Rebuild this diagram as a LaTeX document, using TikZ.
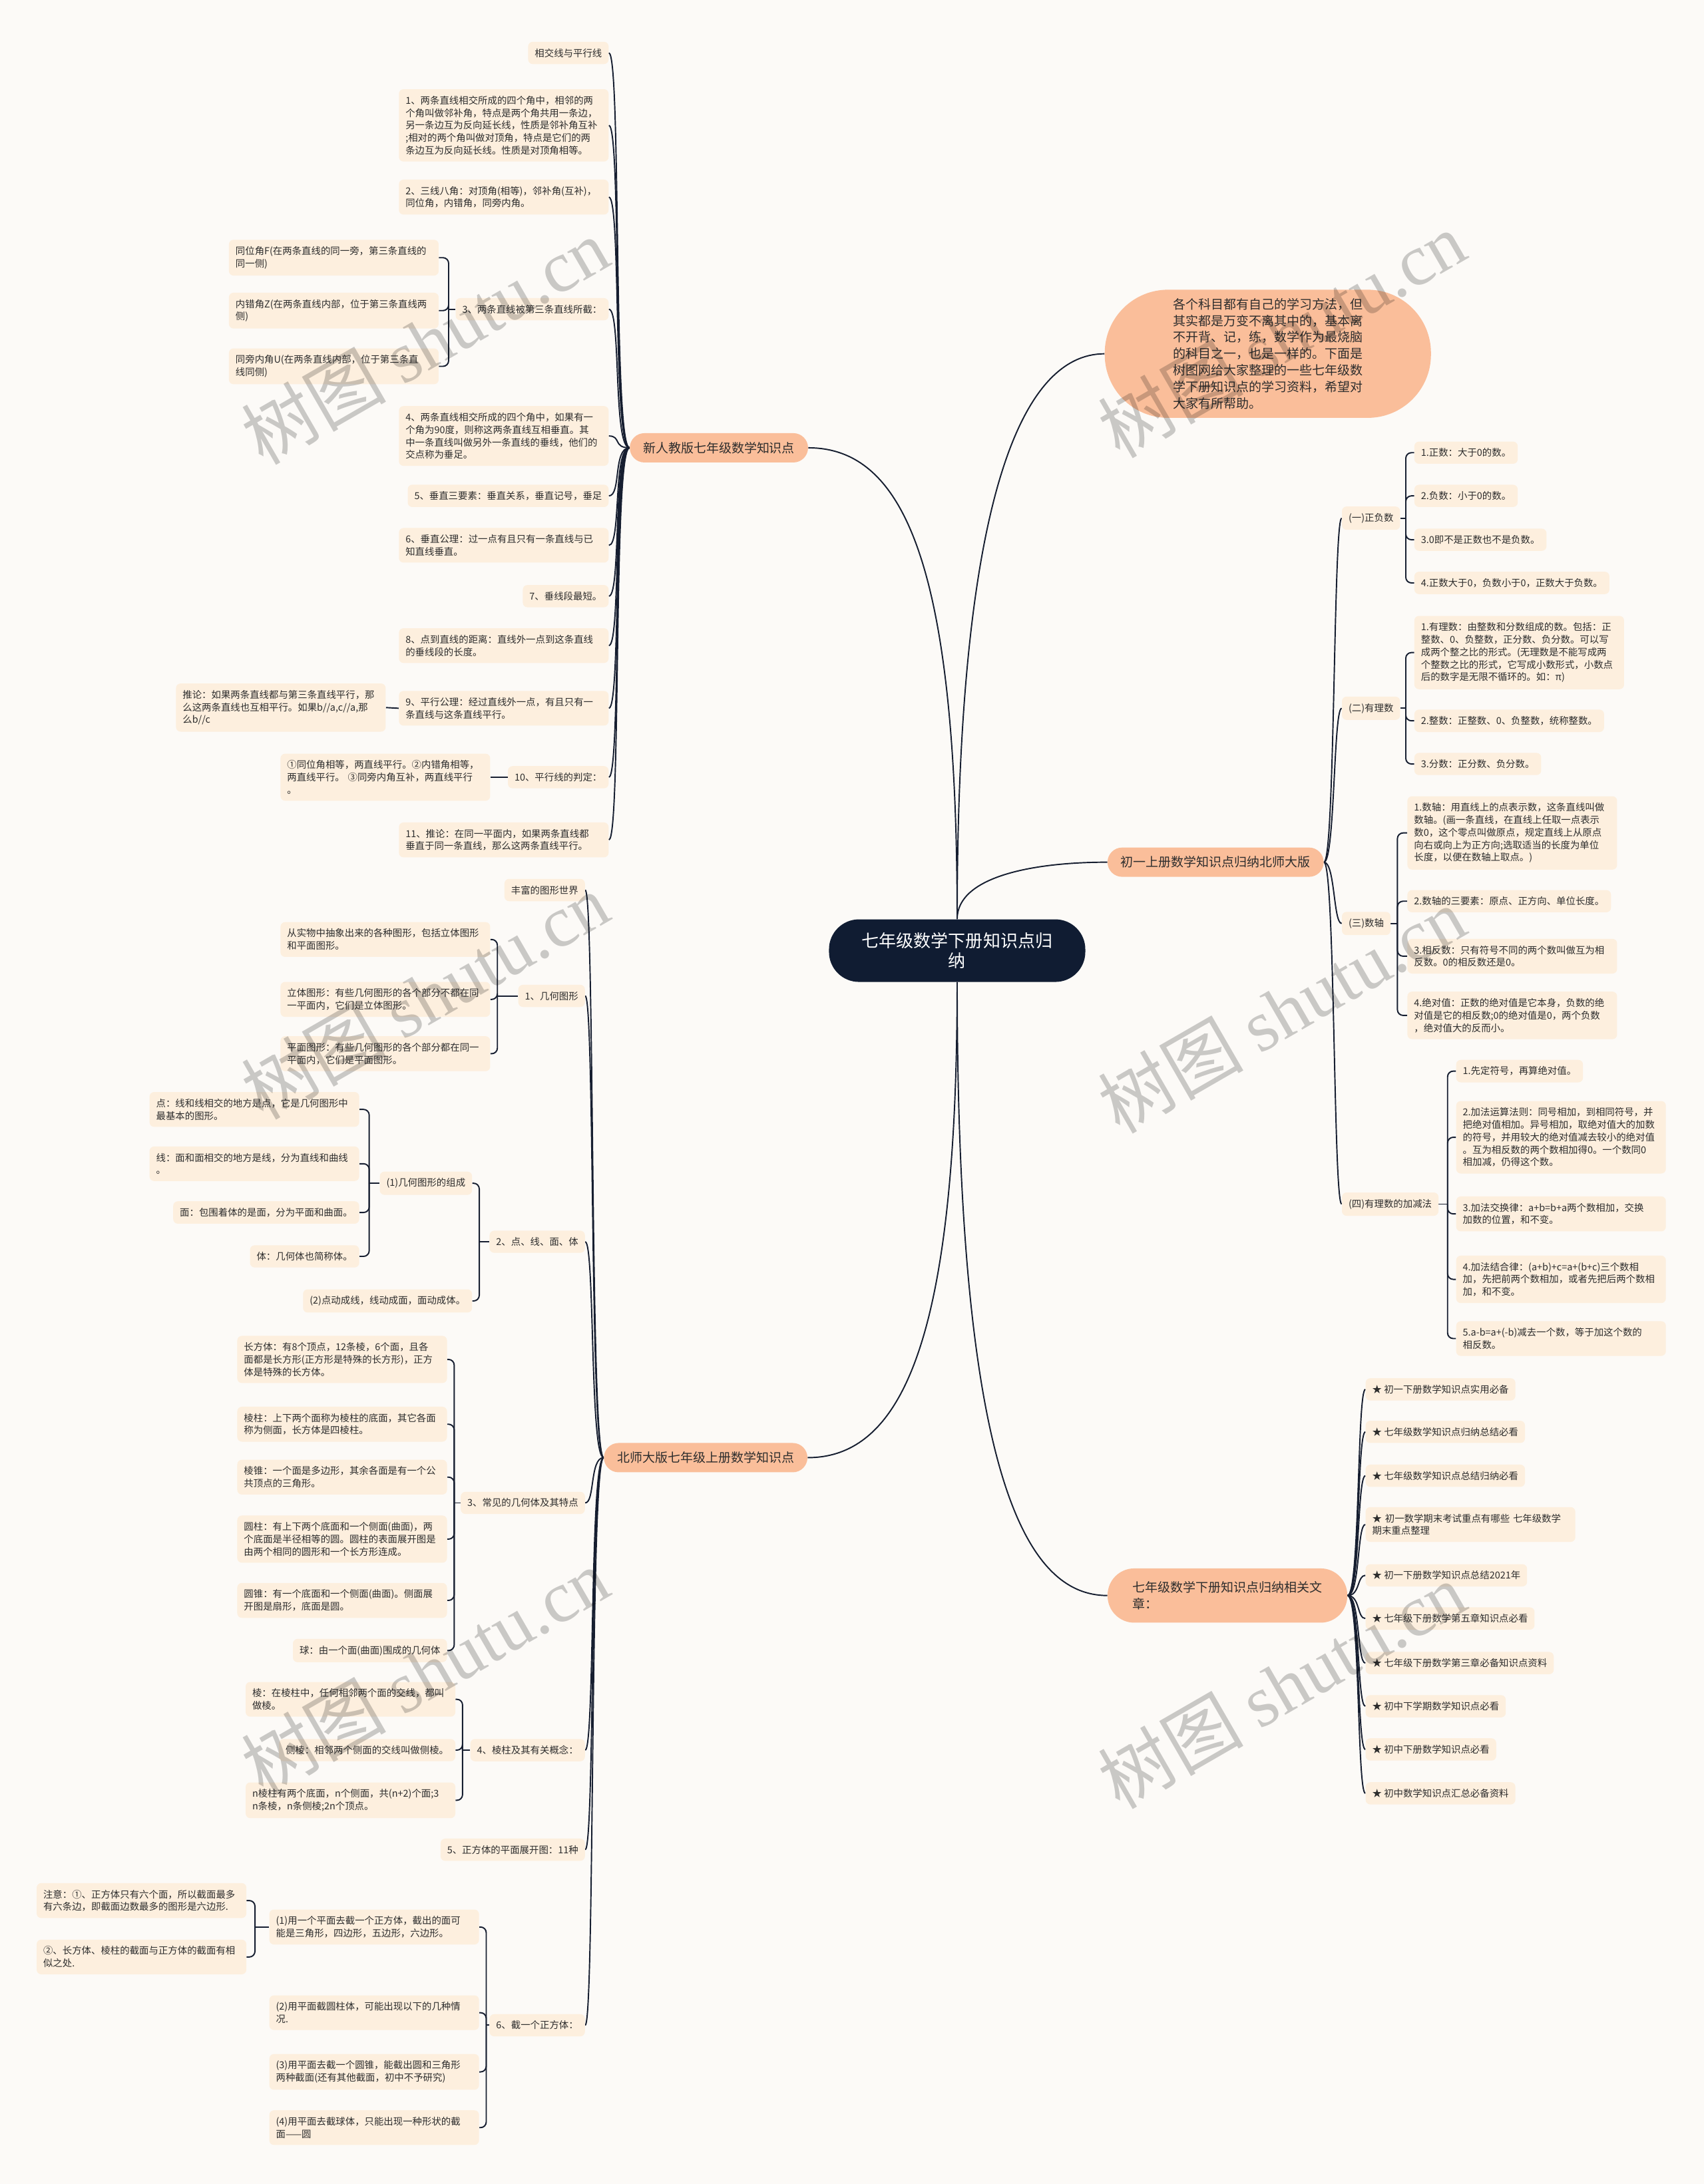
\documentclass[tikz,border=0pt]{standalone}
\usepackage{fontspec}
\setmainfont{Noto Sans CJK SC}
\newfontfamily\wmlatin{Liberation Serif}
\usetikzlibrary{backgrounds}

\definecolor{bgcol}{RGB}{252,250,247}
\definecolor{leafcol}{RGB}{253,239,222}
\definecolor{branchcol}{RGB}{250,190,154}
\definecolor{rootcol}{RGB}{16,28,50}
\definecolor{linecol}{RGB}{22,30,48}
\definecolor{textcol}{RGB}{45,45,45}

\newcommand\leaffnt{\fontsize{8.2pt}{10.7pt}\selectfont}
\newcommand\brfnt{\fontsize{10.8pt}{14.2pt}\selectfont}
\newcommand\rootfnt{\fontsize{14.8pt}{17pt}\selectfont}
\newcommand\wmfnt{\fontsize{62pt}{62pt}\selectfont}

\begin{document}
\begin{tikzpicture}[x=0.04186cm, y=-0.04186cm,
  leaf/.style={fill=leafcol, text=textcol, rounded corners=0.14cm, inner xsep=0.2cm, inner ysep=0.2cm, align=left, font=\leaffnt},
  wide/.style={leaf, text width=5.9cm},
  branch/.style={fill=branchcol, text=textcol, rounded corners=0.44cm, inner xsep=0.4cm, inner ysep=0.2cm, minimum height=0.88cm, font=\brfnt},
  link/.style={draw=linecol, line width=1.1pt},
  brk/.style={link, rounded corners=0.17cm},
  wm/.style={rotate=30, font=\wmfnt, text=black, text opacity=0.2},
]
\useasboundingbox (0,0) rectangle (1223,1568);
\begin{scope}[on background layer]
\fill[bgcol] (0,0) rectangle (1223,1568);
\end{scope}

% centre
\node[fill=rootcol, text=white, font=\rootfnt, align=center, minimum width=7.7cm, minimum height=1.88cm, rounded corners=0.9cm] (root) at (687,682.5) {七年级数学下册知识点归\\纳};

% main branches
\node[branch] (xrj) at (516,321.5) {新人教版七年级数学知识点};
\node[branch] (bsd) at (506.5,1046.5) {北师大版七年级上册数学知识点};
\node[branch] (cysc) at (872.5,619) {初一上册数学知识点归纳北师大版};
\node[branch, align=left, minimum width=7.2cm, minimum height=1.63cm, rounded corners=0.8cm, inner xsep=0.6cm] (xgwz) at (881,1145.5) {七年级数学下册知识点归纳相关文\\章：};
\node[branch, align=left, minimum width=9.8cm, minimum height=3.85cm, rounded corners=1.9cm] (intro) at (910,254) {各个科目都有自己的学习方法，但\\其实都是万变不离其中的，基本离\\不开背、记，练，数学作为最烧脑\\的科目之一，也是一样的。下面是\\树图网给大家整理的一些七年级数\\学下册知识点的学习资料，希望对\\大家有所帮助。};

% 新人教版
\node[leaf, anchor=east] (a1) at (437,38) {相交线与平行线};
\node[wide, anchor=east] (a2) at (437,90) {1、两条直线相交所成的四个角中，相邻的两\\个角叫做邻补角，特点是两个角共用一条边，\\另一条边互为反向延长线，性质是邻补角互补\\;相对的两个角叫做对顶角，特点是它们的两\\条边互为反向延长线。性质是对顶角相等。};
\node[wide, anchor=east] (a3) at (437,141.5) {2、三线八角：对顶角(相等)，邻补角(互补)，\\同位角，内错角，同旁内角。};
\node[leaf, anchor=east] (a4) at (437,222) {3、两条直线被第三条直线所截：};
\node[wide, anchor=east] (a41) at (315,185) {同位角F(在两条直线的同一旁，第三条直线的\\同一侧)};
\node[wide, anchor=east] (a42) at (315,223) {内错角Z(在两条直线内部，位于第三条直线两\\侧)};
\node[wide, anchor=east] (a43) at (315,263) {同旁内角U(在两条直线内部，位于第三条直\\线同侧)};
\node[wide, anchor=east] (a5) at (437,313) {4、两条直线相交所成的四个角中，如果有一\\个角为90度，则称这两条直线互相垂直。其\\中一条直线叫做另外一条直线的垂线，他们的\\交点称为垂足。};
\node[leaf, anchor=east] (a6) at (437,356) {5、垂直三要素：垂直关系，垂直记号，垂足};
\node[wide, anchor=east] (a7) at (437,391.5) {6、垂直公理：过一点有且只有一条直线与已\\知直线垂直。};
\node[leaf, anchor=east] (a8) at (437,428) {7、垂线段最短。};
\node[wide, anchor=east] (a9) at (437,463.5) {8、点到直线的距离：直线外一点到这条直线\\的垂线段的长度。};
\node[wide, anchor=east] (a10) at (437,508.5) {9、平行公理：经过直线外一点，有且只有一\\条直线与这条直线平行。};
\node[wide, anchor=east] (a101) at (277,508) {推论：如果两条直线都与第三条直线平行，那\\么这两条直线也互相平行。如果b//a,c//a,那\\么b//c};
\node[leaf, anchor=east] (a11) at (437,558) {10、平行线的判定：};
\node[wide, anchor=east] (a111) at (352,558) {①同位角相等，两直线平行。②内错角相等，\\两直线平行。 ③同旁内角互补，两直线平行\\。};
\node[wide, anchor=east] (a12) at (437,603) {11、推论：在同一平面内，如果两条直线都\\垂直于同一条直线，那么这两条直线平行。};

% 北师大版
\node[leaf, anchor=east] (b1) at (420,639) {丰富的图形世界};
\node[leaf, anchor=east] (b2) at (420,715) {1、几何图形};
\node[wide, anchor=east] (b21) at (352,674.5) {从实物中抽象出来的各种图形，包括立体图形\\和平面图形。};
\node[wide, anchor=east] (b22) at (352,717.5) {立体图形：有些几何图形的各个部分不都在同\\一平面内，它们是立体图形。};
\node[wide, anchor=east] (b23) at (352,756.5) {平面图形：有些几何图形的各个部分都在同一\\平面内，它们是平面图形。};
\node[leaf, anchor=east] (b3) at (420,891.5) {2、点、线、面、体};
\node[leaf, anchor=east] (b31) at (339,849.5) {(1)几何图形的组成};
\node[wide, anchor=east] (b311) at (258,796.5) {点：线和线相交的地方是点，它是几何图形中\\最基本的图形。};
\node[wide, anchor=east] (b312) at (258,835.5) {线：面和面相交的地方是线，分为直线和曲线\\。};
\node[leaf, anchor=east] (b313) at (258,870.5) {面：包围着体的是面，分为平面和曲面。};
\node[leaf, anchor=east] (b314) at (258,902) {体：几何体也简称体。};
\node[leaf, anchor=east] (b32) at (339,934) {(2)点动成线，线动成面，面动成体。};
\node[leaf, anchor=east] (b4) at (420,1079) {3、常见的几何体及其特点};
\node[wide, anchor=east] (b41) at (321,976) {长方体：有8个顶点，12条棱，6个面，且各\\面都是长方形(正方形是特殊的长方形)，正方\\体是特殊的长方体。};
\node[wide, anchor=east] (b42) at (321,1022.5) {棱柱：上下两个面称为棱柱的底面，其它各面\\称为侧面，长方体是四棱柱。};
\node[wide, anchor=east] (b43) at (321,1060.5) {棱锥：一个面是多边形，其余各面是有一个公\\共顶点的三角形。};
\node[wide, anchor=east] (b44) at (321,1105) {圆柱：有上下两个底面和一个侧面(曲面)，两\\个底面是半径相等的圆。圆柱的表面展开图是\\由两个相同的圆形和一个长方形连成。};
\node[wide, anchor=east] (b45) at (321,1149) {圆锥：有一个底面和一个侧面(曲面)。侧面展\\开图是扇形，底面是圆。};
\node[leaf, anchor=east] (b46) at (321,1185) {球：由一个面(曲面)围成的几何体};
\node[leaf, anchor=east] (b5) at (420,1256.5) {4、棱柱及其有关概念：};
\node[wide, anchor=east] (b51) at (327,1220) {棱：在棱柱中，任何相邻两个面的交线，都叫\\做棱。};
\node[leaf, anchor=east] (b52) at (327,1256.5) {侧棱：相邻两个侧面的交线叫做侧棱。};
\node[wide, anchor=east] (b53) at (327,1292.5) {n棱柱有两个底面，n个侧面，共(n+2)个面;3\\n条棱，n条侧棱;2n个顶点。};
\node[leaf, anchor=east] (b6) at (420,1328) {5、正方体的平面展开图：11种};
\node[leaf, anchor=east] (b7) at (420,1454) {6、截一个正方体：};
\node[wide, anchor=east] (b71) at (344,1383.5) {(1)用一个平面去截一个正方体，截出的面可\\能是三角形，四边形，五边形，六边形。};
\node[wide, anchor=east] (b711) at (177,1364.5) {注意：①、正方体只有六个面，所以截面最多\\有六条边，即截面边数最多的图形是六边形.};
\node[wide, anchor=east] (b712) at (177,1405) {②、长方体、棱柱的截面与正方体的截面有相\\似之处.};
\node[wide, anchor=east] (b72) at (344,1445) {(2)用平面截圆柱体，可能出现以下的几种情\\况.};
\node[wide, anchor=east] (b73) at (344,1487.5) {(3)用平面去截一个圆锥，能截出圆和三角形\\两种截面(还有其他截面，初中不予研究)};
\node[wide, anchor=east] (b74) at (344,1527.5) {(4)用平面去截球体，只能出现一种形状的截\\面——圆};

% 初一上册
\node[leaf, anchor=west] (c1) at (963,372) {(一)正负数};
\node[leaf, anchor=west] (c11) at (1015,325) {1.正数：大于0的数。};
\node[leaf, anchor=west] (c12) at (1015,356) {2.负数：小于0的数。};
\node[leaf, anchor=west] (c13) at (1015,387.5) {3.0即不是正数也不是负数。};
\node[leaf, anchor=west] (c14) at (1015,418.5) {4.正数大于0，负数小于0，正数大于负数。};
\node[leaf, anchor=west] (c2) at (963,508.5) {(二)有理数};
\node[wide, anchor=west] (c21) at (1015,468.5) {1.有理数：由整数和分数组成的数。包括：正\\整数、0、负整数，正分数、负分数。可以写\\成两个整之比的形式。(无理数是不能写成两\\个整数之比的形式，它写成小数形式，小数点\\后的数字是无限不循环的。如：π)};
\node[leaf, anchor=west] (c22) at (1015,517.5) {2.整数：正整数、0、负整数，统称整数。};
\node[leaf, anchor=west] (c23) at (1015,548.5) {3.分数：正分数、负分数。};
\node[leaf, anchor=west] (c3) at (963,663) {(三)数轴};
\node[wide, anchor=west] (c31) at (1010,598) {1.数轴：用直线上的点表示数，这条直线叫做\\数轴。(画一条直线，在直线上任取一点表示\\数0，这个零点叫做原点，规定直线上从原点\\向右或向上为正方向;选取适当的长度为单位\\长度，以便在数轴上取点。)};
\node[leaf, anchor=west] (c32) at (1010,647) {2.数轴的三要素：原点、正方向、单位长度。};
\node[wide, anchor=west] (c33) at (1010,686.5) {3.相反数：只有符号不同的两个数叫做互为相\\反数。0的相反数还是0。};
\node[wide, anchor=west] (c34) at (1010,729) {4.绝对值：正数的绝对值是它本身，负数的绝\\对值是它的相反数;0的绝对值是0，两个负数\\，绝对值大的反而小。};
\node[leaf, anchor=west] (c4) at (963,864.5) {(四)有理数的加减法};
\node[leaf, anchor=west] (c41) at (1045,769) {1.先定符号，再算绝对值。};
\node[wide, anchor=west] (c42) at (1045,816.5) {2.加法运算法则：同号相加，到相同符号，并\\把绝对值相加。异号相加，取绝对值大的加数\\的符号，并用较大的绝对值减去较小的绝对值\\。互为相反数的两个数相加得0。一个数同0\\相加减，仍得这个数。};
\node[wide, anchor=west] (c43) at (1045,871.5) {3.加法交换律：a+b=b+a两个数相加，交换\\加数的位置，和不变。};
\node[wide, anchor=west] (c44) at (1045,918.5) {4.加法结合律：(a+b)+c=a+(b+c)三个数相\\加，先把前两个数相加，或者先把后两个数相\\加，和不变。};
\node[wide, anchor=west] (c45) at (1045,961) {5.a-b=a+(-b)减去一个数，等于加这个数的\\相反数。};

% 相关文章
\node[leaf, anchor=west] (d1) at (980,997.5) {★ 初一下册数学知识点实用必备};
\node[leaf, anchor=west] (d2) at (980,1028) {★ 七年级数学知识点归纳总结必看};
\node[leaf, anchor=west] (d3) at (980,1059.5) {★ 七年级数学知识点总结归纳必看};
\node[wide, anchor=west] (d4) at (980,1094.5) {★ 初一数学期末考试重点有哪些 七年级数学\\期末重点整理};
\node[leaf, anchor=west] (d5) at (980,1131) {★ 初一下册数学知识点总结2021年};
\node[leaf, anchor=west] (d6) at (980,1162) {★ 七年级下册数学第五章知识点必看};
\node[leaf, anchor=west] (d7) at (980,1194) {★ 七年级下册数学第三章必备知识点资料};
\node[leaf, anchor=west] (d8) at (980,1225) {★ 初中下学期数学知识点必看};
\node[leaf, anchor=west] (d9) at (980,1256) {★ 初中下册数学知识点必看};
\node[leaf, anchor=west] (d10) at (980,1287.5) {★ 初中数学知识点汇总必备资料};

% bracket joints
\coordinate (a4b) at (322,222);
\coordinate (b2b) at (357,715);
\coordinate (b3b) at (344,891.5);
\coordinate (b31b) at (265,849.5);
\coordinate (b4b) at (326,1079);
\coordinate (b5b) at (332,1256.5);
\coordinate (b7b) at (349,1454);
\coordinate (b71b) at (183,1383.5);
\coordinate (c1b) at (1009,372);
\coordinate (c2b) at (1009,508.5);
\coordinate (c3b) at (1003,663);
\coordinate (c4b) at (1039,864.5);

\begin{scope}[on background layer]
% centre to main branches
\draw[link] (root.north) .. controls +(0,-250) and +(70,0) .. (xrj.east);
\draw[link] (root.north) .. controls +(0,-300) and +(-60,0) .. (intro.west);
\draw[link] (root.north) .. controls +(0,-30) and +(-55,0) .. (cysc.west);
\draw[link] (root.south) .. controls +(0,250) and +(70,0) .. (bsd.east);
\draw[link] (root.south) .. controls +(0,350) and +(-60,0) .. (xgwz.west);
% main branches to topics
\foreach \c in {a1,a2,a3,a4,a5,a6,a7,a8,a9,a10,a11,a12}
  \draw[link] (xrj.west) .. controls +(-12,0) and +(9,0) .. (\c.east);
\foreach \c in {b1,b2,b3,b4,b5,b6,b7}
  \draw[link] (bsd.west) .. controls +(-10,0) and +(7,0) .. (\c.east);
\foreach \c in {c1,c2,c3,c4}
  \draw[link] (cysc.east) .. controls +(8,0) and +(-6,0) .. (\c.west);
\foreach \c in {d1,d2,d3,d4,d5,d6,d7,d8,d9,d10}
  \draw[link] (xgwz.east) .. controls +(9,0) and +(-6,0) .. (\c.west);
% brackets
\draw[link] (a4.west) -- (a4b);
\foreach \c in {a41,a42,a43} \draw[brk] (a4b) |- (\c.east);
\draw[link] (a10.west) -- (a101.east);
\draw[link] (a11.west) -- (a111.east);
\draw[link] (b2.west) -- (b2b);
\foreach \c in {b21,b22,b23} \draw[brk] (b2b) |- (\c.east);
\draw[link] (b3.west) -- (b3b);
\foreach \c in {b31,b32} \draw[brk] (b3b) |- (\c.east);
\draw[link] (b31.west) -- (b31b);
\foreach \c in {b311,b312,b313,b314} \draw[brk] (b31b) |- (\c.east);
\draw[link] (b4.west) -- (b4b);
\foreach \c in {b41,b42,b43,b44,b45,b46} \draw[brk] (b4b) |- (\c.east);
\draw[link] (b5.west) -- (b5b);
\foreach \c in {b51,b52,b53} \draw[brk] (b5b) |- (\c.east);
\draw[link] (b7.west) -- (b7b);
\foreach \c in {b71,b72,b73,b74} \draw[brk] (b7b) |- (\c.east);
\draw[link] (b71.west) -- (b71b);
\foreach \c in {b711,b712} \draw[brk] (b71b) |- (\c.east);
\draw[link] (c1.east) -- (c1b);
\foreach \c in {c11,c12,c13,c14} \draw[brk] (c1b) |- (\c.west);
\draw[link] (c2.east) -- (c2b);
\foreach \c in {c21,c22,c23} \draw[brk] (c2b) |- (\c.west);
\draw[link] (c3.east) -- (c3b);
\foreach \c in {c31,c32,c33,c34} \draw[brk] (c3b) |- (\c.west);
\draw[link] (c4.east) -- (c4b);
\foreach \c in {c41,c42,c43,c44,c45} \draw[brk] (c4b) |- (\c.west);
\end{scope}

% watermark
\foreach \wx/\wy [count=\i] in {305/245, 920/240, 305/715, 920/725, 305/1200, 920/1210}
  \node[wm] (wm\i) at (\wx,\wy) {树图 {\wmlatin shutu.cn}};
\end{tikzpicture}
\end{document}
